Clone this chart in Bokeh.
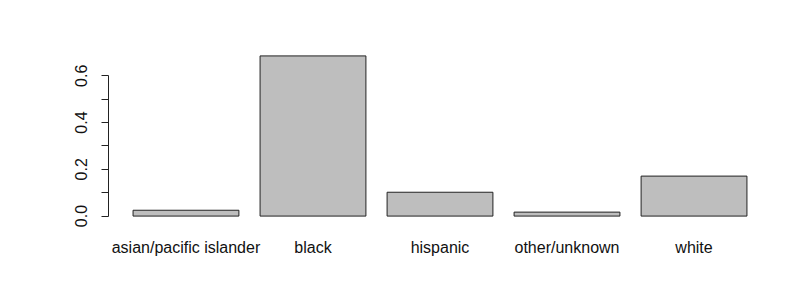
import math
from bokeh.plotting import figure
from bokeh.models import Range1d, FixedTicker, ColumnDataSource
from bokeh.embed import file_html
from bokeh.resources import INLINE

categories = ["asian/pacific islander", "black", "hispanic", "other/unknown", "white"]
proportions = [0.025, 0.685, 0.102, 0.017, 0.171]
y_ticks = [0.0, 0.1, 0.2, 0.3, 0.4, 0.5, 0.6]
y_tick_labels = ["0.0", "", "0.2", "", "0.4", "", "0.6"]

# R barplot layout: width 1, space 0.2
centers = [0.2 + 0.5 + i * 1.2 for i in range(len(categories))]
xmax = centers[-1] + 0.5
xpad = 0.04 * (xmax - 0.2)
ymax = max(proportions)
ypad = 0.04 * ymax

src = ColumnDataSource(dict(x=centers, top=proportions, cat=categories))

p = figure(width=812, height=288, output_backend="svg", toolbar_location=None,
           x_range=Range1d(0.2 - xpad, xmax + xpad),
           y_range=Range1d(-ypad, ymax + ypad))
p.min_border_left = 108
p.min_border_right = 41
p.min_border_top = 49
p.min_border_bottom = 66
p.outline_line_color = None
p.grid.visible = False
p.background_fill_color = "white"
p.border_fill_color = "white"

p.vbar(x="x", top="top", bottom=0, width=1.0, source=src,
       fill_color="#BEBEBE", line_color="#222222", line_width=1)

font = "Liberation Sans"
fs = "16px"

xa = p.xaxis[0]
xa.ticker = FixedTicker(ticks=centers)
xa.major_label_overrides = {c: lab for c, lab in zip(centers, categories)}
xa.axis_line_color = None
xa.major_tick_line_color = None
xa.minor_tick_line_color = None
xa.major_label_standoff = 10
xa.major_label_text_font = font
xa.major_label_text_font_size = fs
xa.major_label_text_color = "#111111"

ya = p.yaxis[0]
ya.ticker = FixedTicker(ticks=y_ticks)
ya.major_label_overrides = {t: l for t, l in zip(y_ticks, y_tick_labels)}
ya.bounds = (0, 0.6)
ya.major_tick_in = 0
ya.major_tick_out = 7
ya.minor_tick_line_color = None
ya.axis_line_color = "#222222"
ya.major_tick_line_color = "#222222"
ya.major_label_orientation = "vertical"
ya.major_label_standoff = 14
ya.major_label_text_font = font
ya.major_label_text_font_size = fs
ya.major_label_text_color = "#111111"

open("out.html", "w").write(file_html(p, INLINE))
